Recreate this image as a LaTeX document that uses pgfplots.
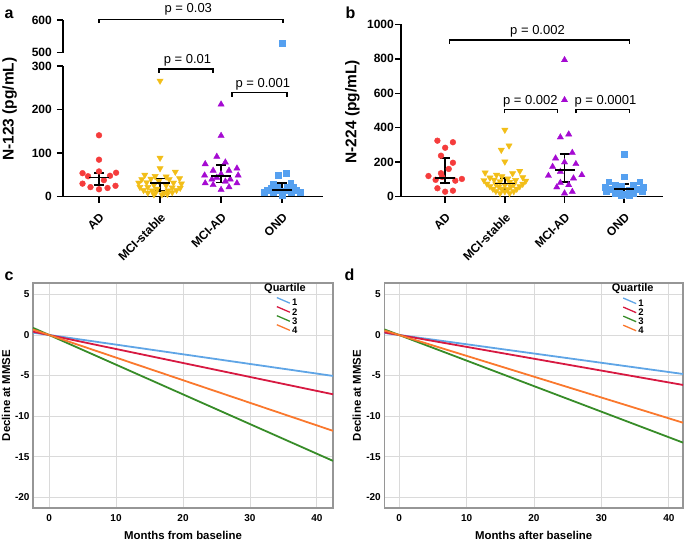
\documentclass[border=0pt]{standalone}
\usepackage{fontspec}
\setmainfont{Liberation Sans}
\usepackage{pgfplots}
\pgfplotsset{compat=1.18}

\definecolor{cAD}{RGB}{245,60,60}
\definecolor{cMS}{RGB}{242,190,25}
\definecolor{cMA}{RGB}{165,10,210}
\definecolor{cOND}{RGB}{85,160,240}
\definecolor{q1}{RGB}{95,165,230}
\definecolor{q2}{RGB}{215,25,65}
\definecolor{q3}{RGB}{55,140,40}
\definecolor{q4}{RGB}{250,120,45}
\definecolor{gridgray}{RGB}{218,218,218}
\definecolor{boxgray}{RGB}{150,150,150}

\pgfplotsset{
  swarm/.style={
    scale only axis, clip=false,
    axis x line*=bottom, axis y line*=left,
    axis line style={-, line width=1.5pt, black},
    tick align=outside, major tick length=6pt,
    tick style={black, line width=1.5pt},
    xtick={0,1,2,3}, xticklabels={AD,MCI-stable,MCI-AD,OND},
    xticklabel style={yshift=-8pt, rotate=45, anchor=north east, inner sep=1pt,
      font=\bfseries\fontsize{12}{12}\selectfont},
    yticklabel style={font=\bfseries\fontsize{12}{12}\selectfont, inner sep=1pt},
    /pgf/number format/assume math mode=true,
    /pgf/number format/1000 sep={},
  },
  iqr/.style={black, only marks, mark=-, mark size=10pt, mark options={line width=1.6pt},
    error bars/.cd, y dir=both, y explicit,
    error bar style={line width=1.6pt},
    error mark options={rotate=90, black, line width=1.6pt, mark size=5pt}},
  decline/.style={
    scale only axis, height=225pt,
    ymin=-21.3, ymax=6.4,
    xtick={0,10,20,30,40}, ytick={-20,-15,...,5},
    grid=major, grid style={gridgray, line width=0.9pt},
    axis line style={boxgray, line width=1.1pt},
    major tick length=0pt,
    tick label style={font=\bfseries\fontsize{10}{10}\selectfont},
    xticklabel style={yshift=-3pt},
    /pgf/number format/assume math mode=true,
    label style={font=\bfseries\fontsize{11.4}{11.4}\selectfont, inner sep=0pt},
    ylabel={Decline at MMSE},
    legend style={draw=none, fill=none, inner sep=0pt, row sep=-2pt, column sep=1.5pt,
      font=\bfseries\fontsize{9.5}{9.5}\selectfont,
      nodes={inner sep=0pt, text height=6.4pt, text depth=2pt}},
    legend cell align=left,
    legend image code/.code={\draw[##1, line width=1.3pt] (0pt,6.2pt) -- (13pt,0.6pt);},
  },
}

\begin{document}
\begin{tikzpicture}
\path[use as bounding box] (0pt,0pt) rectangle (685pt,-541pt);

% ---------- panel a, lower part
\begin{axis}[swarm, at={(63pt,-196.7pt)}, anchor=south west,
  width=260pt, height=130.7pt, xmin=-0.59, xmax=3.67,
  ymin=0, ymax=300, ytick={0,100,200,300}, yticklabel style={xshift=-4pt}]
\addplot[cAD, only marks, mark=*, mark size=2.9pt] table {
0 141
0 85
-0.27 54
0.28 55
-0.18 47
0.18 48
0 58
-0.27 30
0.27 25
-0.14 22
0.14 20
0 17
0.08 38
};
\addplot[cMS, only marks, mark=triangle*, mark size=3.6pt, mark options={rotate=180}] table {
1 266
1 89
1 65
1.25 57
0.75 50
0.92 47
1.1 46
0.7 40
0.85 41
1.15 40
1.32 42
0.98 36
0.65 32
0.78 33
1.22 32
1.35 30
0.9 27
1.1 26
0.67 22
0.8 22
1.2 21
1.33 20
0.95 18
0.73 15
0.87 14
1.13 14
1.27 15
0.8 9
0.93 10
1.07 9
1.2 10
0.9 5
1.03 5
1.12 6
};
\addplot[cMA, only marks, mark=triangle*, mark size=3.6pt] table {
2 212
2 140
1.93 92
2.07 79
1.74 75
2.26 65
1.87 60
2.13 60
1.73 49
2.28 49
2 52
1.85 40
2.15 40
1.74 31
2.26 31
1.87 27
2.13 22
2 16
1.93 44
2.07 35
};
\addplot[cOND, only marks, mark=square*, mark size=2.9pt] table {
2.93 50
3.07 54
3.14 32
2.86 29
2.75 15
3.23 15
2.82 20
3.18 21
2.92 22
3.08 22
2.85 10
3.15 10
3 8
2.95 14
3.05 14
3 3
2.7 11
3.3 11
};
\addplot[iqr] table[x=x, y=y, y error plus=ep, y error minus=em] {
x y ep em
0 44 11 17
1 31 11 18
2 48 25 15
3 15.5 15.5 6.5
};
\end{axis}

% ---------- panel a, upper part
\begin{axis}[swarm, at={(63pt,-52.7pt)}, anchor=south west,
  width=260pt, height=32.7pt, xmin=-0.59, xmax=3.67,
  ymin=500, ymax=600, ytick={500,600}, yticklabel style={xshift=-4pt},
  axis x line=none, xtick=\empty]
\addplot[cOND, only marks, mark=square*, mark size=2.9pt] coordinates {(3,530)};
\end{axis}

% ---------- panel b
\begin{axis}[swarm, at={(401pt,-196.7pt)}, anchor=south west,
  width=262pt, height=172.4pt, xmin=-0.74, xmax=3.65,
  ymin=0, ymax=1000, ytick={0,200,400,600,800,1000}]
\addplot[cAD, only marks, mark=*, mark size=2.9pt] table {
-0.13 325
0.13 316
0 284
-0.07 238
0.13 197
0.06 161
-0.07 136
-0.28 120
0.28 103
0.17 93
-0.16 98
-0.13 49
0.13 35
0 29
-0.05 115
};
\addplot[cMS, only marks, mark=triangle*, mark size=3.6pt, mark options={rotate=180}] table {
1 387
1.07 296
0.94 271
1 203
0.67 139
1.25 149
0.86 126
1.13 135
0.95 118
0.75 110
1.3 112
1.05 105
0.65 95
0.82 98
1.18 96
1.35 92
0.92 88
1.08 85
0.7 75
0.85 72
1.15 73
1.3 74
1 68
0.75 60
0.9 58
1.1 58
1.25 60
0.8 45
0.95 45
1.05 44
1.2 45
0.85 32
1 30
1.15 31
0.92 20
1.08 20
};
\addplot[cMA, only marks, mark=triangle*, mark size=3.6pt] table {
2 793
2 561
1.93 345
2.07 362
2.13 255
1.85 223
2.19 190
1.8 174
2 200
1.93 145
2.29 126
1.73 122
2.15 107
1.93 81
2.07 68
1.87 55
2.13 29
2 20
};
\addplot[cOND, only marks, mark=square*, mark size=2.9pt] table {
3 248
3 116
2.74 87
3.26 87
2.85 70
3.15 70
2.68 55
3.32 55
2.95 60
2.8 45
3.2 45
2.92 38
3.08 38
2.7 30
3.3 30
2.85 22
3.15 22
3 15
2.95 8
3.08 8
};
\addplot[iqr] table[x=x, y=y, y error plus=ep, y error minus=em] {
x y ep em
0 110 116 29
1 77 33 32
2 155 93 68
3 43 29 17
};
\end{axis}

% ---------- panel c
\begin{axis}[decline, at={(33pt,-508pt)}, anchor=south west,
  width=300pt, xmin=-2.4, xmax=42.4,
  xlabel={Months from baseline},
  xlabel style={at={(axis description cs:0.5,-0.122)}, anchor=center},
  ylabel style={at={(axis description cs:-0.09,0.5)}, anchor=center},
  legend style={at={(0.81,0.939)}, anchor=north west}]
\addplot[q1, line width=1.8pt] coordinates {(-2.4,0.29) (42.4,-5.04)};
\addplot[q2, line width=1.8pt] coordinates {(-2.4,0.41) (42.4,-7.3)};
\addplot[q3, line width=1.8pt] coordinates {(-2.4,0.88) (42.4,-15.5)};
\addplot[q4, line width=1.8pt] coordinates {(-2.4,0.67) (42.4,-11.8)};
\legend{1,2,3,4}
\end{axis}

% ---------- panel d
\begin{axis}[decline, at={(384.3pt,-508pt)}, anchor=south west,
  width=298.7pt, xmin=-2.2, xmax=42.1,
  xlabel={Months after baseline},
  xlabel style={at={(axis description cs:0.5,-0.122)}, anchor=center},
  ylabel style={at={(axis description cs:-0.0924,0.5)}, anchor=center},
  legend style={at={(0.797,0.937)}, anchor=north west}]
\addplot[q1, line width=1.8pt] coordinates {(-2.2,0.25) (42.1,-4.8)};
\addplot[q2, line width=1.8pt] coordinates {(-2.2,0.32) (42.1,-6.15)};
\addplot[q3, line width=1.8pt] coordinates {(-2.2,0.69) (42.1,-13.25)};
\addplot[q4, line width=1.8pt] coordinates {(-2.2,0.56) (42.1,-10.8)};
\legend{1,2,3,4}
\end{axis}

% ---------- annotations
\begin{scope}[x=1pt, y=-1pt]
\tikzset{brk/.style={line width=1.6pt, black}, pv/.style={anchor=base, font=\fontsize{13}{13}\selectfont},
  lbl/.style={anchor=base west, font=\bfseries\fontsize{16}{16}\selectfont},
  yl/.style={rotate=90, font=\bfseries\fontsize{15.5}{15.5}\selectfont}}
\node[lbl] at (1,18) {a};
\node[lbl] at (342,18) {b};
\node[lbl] at (1,280.5) {c};
\node[lbl] at (341,280) {d};
\node[yl] at (9.7,109.2) {N-123 (pg/mL)};
\node[yl] at (352.3,111.7) {N-224 (pg/mL)};
\draw[brk] (99,23) -- (99,19.5) -- (283,19.5) -- (283,23);
\node[pv] at (188.3,12.5) {p = 0.03};
\draw[brk] (159,72.5) -- (159,69) -- (213,69) -- (213,72.5);
\node[pv] at (187.5,63.3) {p = 0.01};
\draw[brk] (232,96.5) -- (232,92.5) -- (287,92.5) -- (287,96.5);
\node[pv] at (262.8,87.3) {p = 0.001};
\draw[brk] (449.3,43.5) -- (449.3,40) -- (629.3,40) -- (629.3,43.5);
\node[pv] at (537.5,34) {p = 0.002};
\draw[brk] (504.3,113) -- (504.3,109.3) -- (557.3,109.3) -- (557.3,113);
\node[pv] at (530.3,104) {p = 0.002};
\draw[brk] (576,113) -- (576,109.3) -- (629.3,109.3) -- (629.3,113);
\node[pv] at (605.5,104) {p = 0.0001};
\node[font=\bfseries\fontsize{11}{11}\selectfont] at (285,288.3) {Quartile};
\node[font=\bfseries\fontsize{11}{11}\selectfont] at (632.7,288.3) {Quartile};
\end{scope}
\end{tikzpicture}
\end{document}
